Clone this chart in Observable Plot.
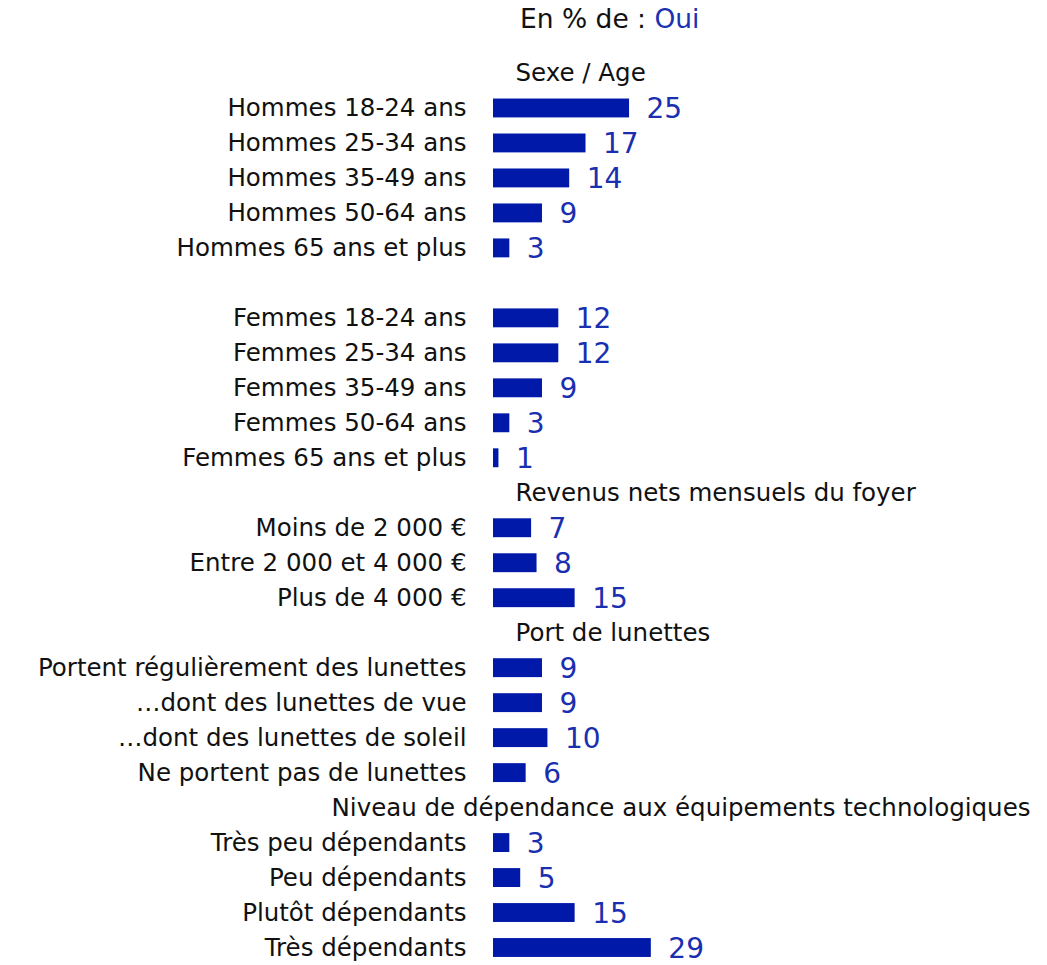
<!DOCTYPE html>
<html><head><meta charset="utf-8">
<script src="https://cdn.jsdelivr.net/npm/d3@7"></script>
<script src="https://cdn.jsdelivr.net/npm/@observablehq/plot@0.6"></script>
<style>
body{margin:0;background:#fff;font-family:"DejaVu Sans",sans-serif;overflow:hidden;}
#title{height:38px;line-height:38px;font-size:26.5px;padding-left:520px;color:#111;white-space:nowrap;}
#title span{color:#1a33b3;}
#chart svg{display:block;}
</style></head><body>
<div id="title">En % de : <span>Oui</span></div>
<div id="chart"></div>
<script>
const categories = [
  "Hommes 18-24 ans","Hommes 25-34 ans","Hommes 35-49 ans","Hommes 50-64 ans","Hommes 65 ans et plus",
  "Femmes 18-24 ans","Femmes 25-34 ans","Femmes 35-49 ans","Femmes 50-64 ans","Femmes 65 ans et plus",
  "Moins de 2 000 €","Entre 2 000 et 4 000 €","Plus de 4 000 €",
  "Portent régulièrement des lunettes","…dont des lunettes de vue","…dont des lunettes de soleil","Ne portent pas de lunettes",
  "Très peu dépendants","Peu dépendants","Plutôt dépendants","Très dépendants"
];
const values = [25,17,14,9,3, 12,12,9,3,1, 7,8,15, 9,9,10,6, 3,5,15,29];
const groups = [
  "Sexe / Age","Sexe / Age","Sexe / Age","Sexe / Age","Sexe / Age",
  "Sexe / Age","Sexe / Age","Sexe / Age","Sexe / Age","Sexe / Age",
  "Revenus nets mensuels du foyer","Revenus nets mensuels du foyer","Revenus nets mensuels du foyer",
  "Port de lunettes","Port de lunettes","Port de lunettes","Port de lunettes",
  "Niveau de dépendance aux équipements technologiques","Niveau de dépendance aux équipements technologiques","Niveau de dépendance aux équipements technologiques","Niveau de dépendance aux équipements technologiques"
];

const W = 1047, ML = 493, labelSize = 24.5, valueSize = 28, fam = "DejaVu Sans";

// Build slot order: group header, rows; a blank slot between Hommes and Femmes
const slots = [];
const headers = [];
let prev = null;
categories.forEach((c, i) => {
  if (groups[i] !== prev) { const k = "H:" + groups[i]; slots.push(k); headers.push({key: k, label: groups[i]}); prev = groups[i]; }
  if (c === "Femmes 18-24 ans") slots.push("BLANK");
  slots.push(c);
});
const rows = categories.map((c, i) => ({cat: c, v: values[i]}));

// Headers that would overflow the right edge are right-aligned to it instead
const ctx = document.createElement("canvas").getContext("2d");
ctx.font = `${labelSize}px "${fam}"`;
const fits = h => ML + 22 + ctx.measureText(h.label).width <= W - 10;
const headersLeft = headers.filter(fits);
const headersRight = headers.filter(h => !fits(h));

const chart = Plot.plot({
  width: W, height: 927,
  marginTop: 17.5, marginBottom: 0, marginLeft: ML, marginRight: 0,
  style: {fontFamily: fam, background: "#fff", overflow: "visible"},
  x: {domain: [0, 101.8], axis: null},
  y: {domain: slots, paddingInner: 0.46, paddingOuter: 0.23, round: false, axis: null},
  marks: [
    Plot.barX(rows, {x: "v", y: "cat", fill: "#0019a8"}),
    Plot.text(rows, {x: "v", y: "cat", text: d => String(d.v), dx: 17, dy: 1, textAnchor: "start", fill: "#1a2fb0", fontSize: valueSize}),
    Plot.text(rows, {x: 0, y: "cat", text: "cat", dx: -27, textAnchor: "end", fill: "#111", fontSize: labelSize}),
    Plot.text(headersLeft, {x: 0, y: "key", text: "label", dx: 22, textAnchor: "start", fill: "#111", fontSize: labelSize}),
    Plot.text(headersRight, {y: "key", text: "label", frameAnchor: "right", dx: -17, textAnchor: "end", fill: "#111", fontSize: labelSize})
  ]
});
document.getElementById("chart").appendChild(chart);
</script>
</body></html>
